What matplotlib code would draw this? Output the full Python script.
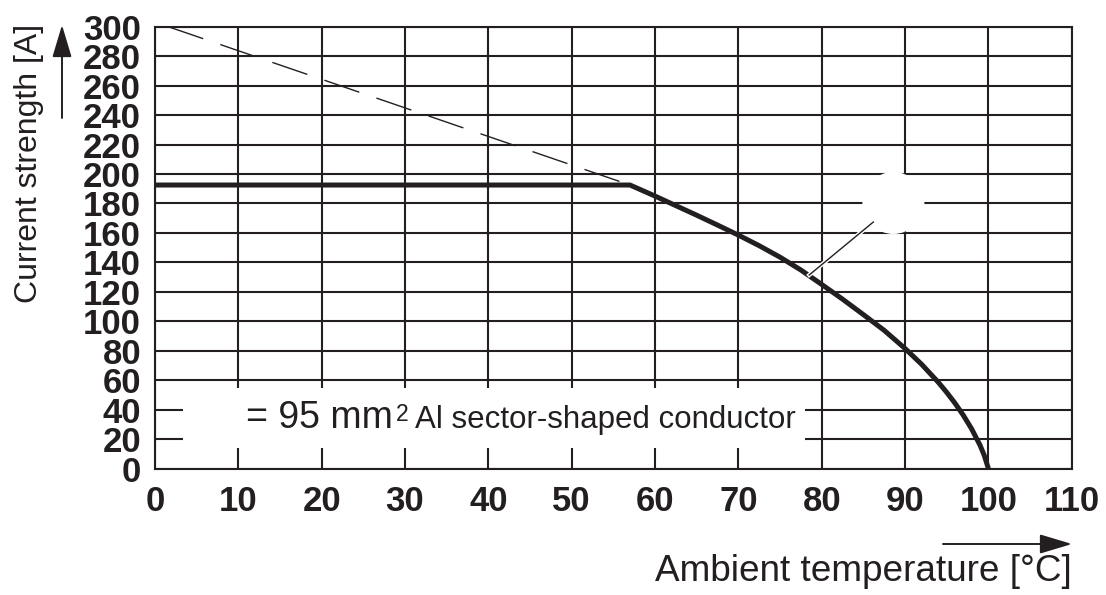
import matplotlib
matplotlib.use("Agg")
import matplotlib.pyplot as plt
from matplotlib.patches import Rectangle, Ellipse, FancyArrowPatch

plt.rcParams["font.family"] = ["Liberation Sans", "DejaVu Sans"]

INK = "#231f20"

# derating curve
temp = [0, 57, 60, 62.5, 65, 67.5, 70, 72.5, 75, 77.5, 80, 82.5, 85, 87.5,
        90, 92, 94, 95, 96, 97, 98, 99, 99.5, 100]
current = [192.5, 192.5, 185, 178.5, 172, 165.3, 158.5, 151.3, 143.5, 134.8,
           125, 115, 104.5, 93.8, 81.5, 70.7, 58.5, 51.7, 44.3, 36.1, 26.8,
           15.8, 9, 0]

# dashed extension of the straight part
ext_temp = [1.6, 57]
ext_current = [300, 192.5]

x_ticks = list(range(0, 111, 10))
y_ticks = list(range(0, 301, 20))

fig = plt.figure(figsize=(11.06, 5.95), dpi=100)
ax = fig.add_axes([0.1401, 0.2126, 0.969 - 0.1401, 0.9551 - 0.2126])
ax.set_xlim(0, 110)
ax.set_ylim(0, 300)
ax.set_xticks(x_ticks)
ax.set_yticks(y_ticks)
ax.set_axisbelow(True)
ax.grid(True, color=INK, lw=1.5)
for sp in ax.spines.values():
    sp.set_color(INK)
    sp.set_linewidth(1.5)
ax.tick_params(length=0, colors=INK)
ax.tick_params(axis="x", pad=12, labelsize=25)
ax.tick_params(axis="y", pad=10, labelsize=25)
for lab in ax.get_xticklabels() + ax.get_yticklabels():
    lab.set_fontweight("bold")

# white areas that blank out the grid
ax.add_patch(Rectangle((3.4, 13.9), 78 - 3.4, 54.5 - 13.9, fc="white", ec="none", zorder=1))
ax.add_patch(Ellipse((88.6, 180.3), 7.44, 42.1, fc="white", ec="none", zorder=1))

ax.plot(ext_temp, ext_current, color=INK, lw=1.0, dashes=(26.6, 13), zorder=2)
ax.plot(temp, current, color=INK, lw=3.6, solid_capstyle="butt",
        solid_joinstyle="round", zorder=3)

# leader line
ax.plot([78.5, 86.2], [131.4, 167.4], color="white", lw=3, zorder=3.5)
ax.plot([78.5, 86.2], [131.4, 167.4], color=INK, lw=1.0, zorder=3.6)

ax.text(10.9, 27.5, "= 95 mm", fontsize=27, color=INK, va="baseline", zorder=4)
ax.text(28.9, 32.5, "2", fontsize=16.5, color=INK, va="baseline", zorder=4)
ax.text(31.2, 27.5, "Al sector-shaped conductor", fontsize=22.5, color=INK,
        va="baseline", zorder=4)

fig.text(0.969, 0.0403, "Ambient temperature [°C]", fontsize=26.6, color=INK,
         ha="right", va="center")
fig.text(0.026, 0.726, "Current strength [A]", fontsize=23, color=INK,
         rotation=90, ha="center", va="center")

arrow = dict(arrowstyle="-|>,head_length=1.0,head_width=0.3", mutation_scale=20,
             color=INK, lw=1.4, shrinkA=0, shrinkB=0)
fig.add_artist(FancyArrowPatch((943 / 1106, 1 - 544 / 595), (1072 / 1106, 1 - 544 / 595),
                               transform=fig.transFigure, **arrow))
fig.add_artist(FancyArrowPatch((62 / 1106, 1 - 118 / 595), (62 / 1106, 1 - 25 / 595),
                               transform=fig.transFigure, **arrow))

fig.savefig("out.png", dpi=100)
